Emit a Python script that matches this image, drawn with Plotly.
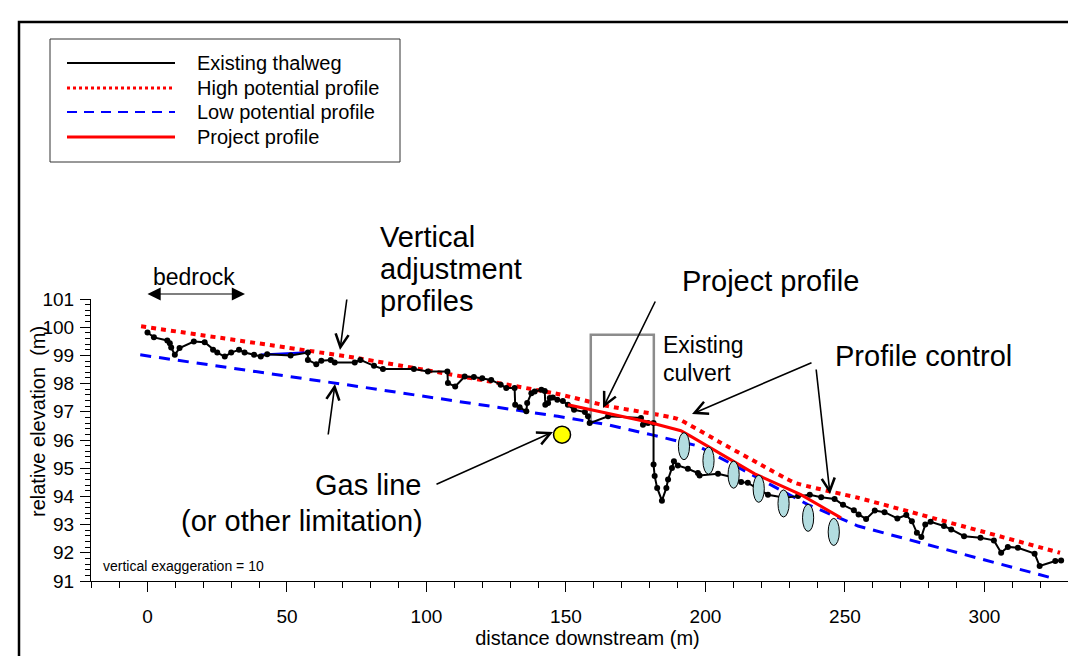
import plotly.graph_objects as go

# ---------------- data ----------------
thalweg_x = [0.0, 2.3, 7.1, 8.0, 8.5, 9.8, 11.5, 16.6, 20.5, 23.5, 25.0, 27.7, 30.0, 32.8, 34.8, 38.2,
             40.6, 42.9, 51.3, 57.5, 57.5, 60.5, 62.3, 65.7, 67.1, 74.3, 76.3, 81.2, 84.4, 95.5, 100.5,
             107.5, 107.7, 110.3, 113.7, 117.0, 120.0, 123.2, 126.6, 128.6, 131.6, 131.8, 133.4, 135.8,
             136.1, 137.6, 138.8, 141.2, 142.4, 142.6, 143.6, 144.2, 145.3, 146.9, 148.9, 150.7, 152.9,
             156.8, 157.9, 158.5, 165.1, 176.9, 177.6, 179.4, 181.4, 181.4, 181.8, 182.7, 184.4, 186.0,
             186.6, 188.0, 188.7, 190.1, 193.7, 197.3, 197.9, 204.5, 210.5, 212.8, 215.2, 222.4, 228.4,
             233.2, 237.4, 241.5, 246.3, 249.3, 253.2, 254.9, 257.6, 260.7, 264.2, 268.8, 272.0, 274.0,
             275.8, 277.4, 278.8, 280.7, 285.5, 288.1, 292.7, 298.6, 303.4, 306.0, 308.4, 312.0, 318.0,
             319.8, 325.4, 327.5]
thalweg_y = [99.81, 99.64, 99.53, 99.43, 99.28, 99.02, 99.26, 99.49, 99.47, 99.20, 99.10, 98.96, 99.10,
             99.20, 99.10, 99.02, 98.96, 99.04, 99.00, 99.10, 98.84, 98.69, 98.81, 98.84, 98.75, 98.75,
             98.84, 98.63, 98.52, 98.52, 98.43, 98.43, 98.02, 97.90, 98.25, 98.23, 98.19, 98.13, 97.96,
             97.84, 97.84, 97.25, 97.16, 97.02, 97.31, 97.66, 97.72, 97.78, 97.74, 97.25, 97.31, 97.49,
             97.51, 97.43, 97.38, 97.25, 97.07, 96.99, 96.84, 96.60, 96.84, 96.78, 96.54, 96.60, 96.60,
             95.13, 94.72, 94.30, 93.85, 94.30, 94.60, 95.01, 95.25, 95.10, 94.98, 94.83, 94.74, 94.80,
             94.66, 94.51, 94.48, 94.06, 93.95, 94.01, 94.06, 93.97, 93.91, 93.70, 93.51, 93.36, 93.20,
             93.50, 93.44, 93.22, 93.34, 93.12, 92.71, 92.56, 93.00, 93.10, 92.95, 92.83, 92.59, 92.53,
             92.44, 92.00, 92.21, 92.18, 91.97, 91.53, 91.71, 91.73]

high_x = [-2.3, 75.4, 147.1, 165.1, 190.0, 204.5, 219.9, 232.1, 254.7, 327.1]
high_y = [100.03, 98.90, 97.63, 97.20, 96.75, 95.96, 95.12, 94.48, 93.95, 92.00]

low_x = [-2.6, 75.4, 147.1, 165.1, 180.5, 197.3, 236.7, 254.7, 323.8]
low_y = [99.02, 97.90, 96.84, 96.54, 96.19, 95.79, 93.71, 92.95, 91.12]

project_x = [150.7, 179.4, 191.2, 194.8, 217.7, 234.2, 248.6]
project_y = [97.25, 96.64, 96.33, 96.13, 94.80, 94.06, 93.24]

bedrock_seg_x = [40.7, 57.5]
bedrock_seg_y = [99.02, 99.10]

culvert_x = [158.9, 158.9, 181.5, 181.5]
culvert_y = [96.60, 99.73, 99.73, 96.70]

control_x = [192.3, 201.1, 210.1, 219.1, 228.0, 236.8, 246.0]
control_y = [95.78, 95.27, 94.77, 94.27, 93.75, 93.24, 92.74]

gas_x = [148.6]
gas_y = [96.19]

x_range = [-20.25, 335.7]
y_range = [91, 101]

legend_labels = ["Existing thalweg", "High potential profile", "Low potential profile", "Project profile"]

# ---------------- layout geometry ----------------
W, H = 1076, 656
ML, MR, MT, MB = 83, 0, 291, 83
PW = W - ML - MR
PH = H - MT - MB
FONT = "Liberation Sans, Arial, sans-serif"


def px(x):
    return (x - ML) / PW


def py(y):
    return (H - MB - y) / PH


fig = go.Figure()

fig.add_trace(go.Scatter(x=low_x, y=low_y, mode="lines", showlegend=False,
                         line=dict(color="#0000ff", width=3, dash="11px,8px")))
fig.add_trace(go.Scatter(x=high_x, y=high_y, mode="lines", showlegend=False,
                         line=dict(color="#ff0000", width=4, dash="5px,5px", shape="spline",
                                   smoothing=0.4)))
fig.add_trace(go.Scatter(x=bedrock_seg_x, y=bedrock_seg_y, mode="lines", showlegend=False,
                         line=dict(color="#0000ff", width=2.5)))
fig.add_trace(go.Scatter(x=culvert_x, y=culvert_y, mode="lines", showlegend=False,
                         line=dict(color="#8c8c8c", width=2.5)))
fig.add_trace(go.Scatter(x=thalweg_x, y=thalweg_y, mode="lines+markers", showlegend=False,
                         line=dict(color="black", width=2),
                         marker=dict(color="black", size=6)))
fig.add_trace(go.Scatter(x=project_x, y=project_y, mode="lines", showlegend=False,
                         line=dict(color="#ff0000", width=3)))
fig.add_trace(go.Scatter(x=gas_x, y=gas_y, mode="markers", showlegend=False,
                         marker=dict(color="#ffff00", size=17, line=dict(color="black", width=1.5))))

shapes = []
EW, EH = 2.0, 0.48
for cx, cy in zip(control_x, control_y):
    shapes.append(dict(type="circle", xref="x", yref="y", x0=cx - EW, x1=cx + EW,
                       y0=cy - EH, y1=cy + EH, fillcolor="#b3dde0",
                       line=dict(color="black", width=1)))

shapes.append(dict(type="rect", xref="paper", yref="paper", x0=px(11), x1=px(1100),
                   y0=py(680), y1=py(14), line=dict(color="black", width=2.5)))
shapes.append(dict(type="rect", xref="paper", yref="paper", x0=px(42), x1=px(392),
                   y0=py(154), y1=py(31), line=dict(color="#333333", width=1),
                   fillcolor="white"))
leg_rows = [55, 80, 104, 129]
leg_styles = [dict(color="black", width=2), dict(color="#ff0000", width=3, dash="3px,3px"),
              dict(color="#0000ff", width=2, dash="10px,7px"), dict(color="#ff0000", width=3)]
for ry, st in zip(leg_rows, leg_styles):
    shapes.append(dict(type="line", xref="paper", yref="paper", x0=px(59), x1=px(167),
                       y0=py(ry), y1=py(ry), line=st))

annotations = []
for ry, lab in zip(leg_rows, legend_labels):
    annotations.append(dict(x=px(187), y=py(ry), xref="paper", yref="paper", text=lab,
                            showarrow=False, xanchor="left", yanchor="middle",
                            font=dict(family=FONT, size=20, color="black")))


def label(x, y, text, size, anchor="left"):
    annotations.append(dict(x=px(x), y=py(y), xref="paper", yref="paper", text=text,
                            showarrow=False, xanchor=anchor, yanchor="middle",
                            font=dict(family=FONT, size=size, color="black")))


def arrow(x0, y0, x1, y1, head=5, size=1.6, width=1.6, side="end"):
    annotations.append(dict(x=px(x1), y=py(y1), xref="paper", yref="paper", text="",
                            showarrow=True, ax=x0 - x1, ay=y0 - y1, arrowhead=head,
                            arrowsize=size, arrowwidth=width, arrowcolor="black",
                            arrowside=side, standoff=0, startstandoff=0))


label(370, 229, "Vertical", 29)
label(370, 261, "adjustment", 29)
label(370, 293, "profiles", 29)
label(143, 269, "bedrock", 23)
label(672, 273, "Project profile", 29)
label(653, 337, "Existing", 23)
label(653, 365, "culvert", 23)
label(825, 348, "Profile control", 29)
label(415, 477, "Gas line", 29, "right")
label(417, 513, "(or other limitation)", 29, "right")
label(93, 558, "vertical exaggeration = 10", 14)
annotations.append(dict(x=px(30), y=py(414), xref="paper", yref="paper",
                        text="relative elevation  (m)", showarrow=False, textangle=-90,
                        xanchor="center", yanchor="middle",
                        font=dict(family=FONT, size=20, color="black")))

annotations.append(dict(x=px(237), y=py(286), xref="paper", yref="paper", text="",
                        showarrow=True, ax=138 - 237, ay=0, arrowhead=2, arrowsize=2.2,
                        arrowwidth=1.2, arrowcolor="black", arrowside="end+start",
                        standoff=0, startstandoff=0))
arrow(339, 290, 332, 342)
arrow(320, 428, 327, 376)
arrow(648, 292, 595, 400)
arrow(805, 354, 684, 406)
arrow(808, 360, 822, 486)
arrow(427, 477, 545, 424)

fig.update_layout(
    width=W, height=H,
    margin=dict(l=ML, r=MR, t=MT, b=MB, pad=0),
    paper_bgcolor="white", plot_bgcolor="white",
    showlegend=False,
    shapes=shapes, annotations=annotations,
    font=dict(family=FONT, size=19, color="black"),
    xaxis=dict(range=x_range, tickmode="linear", tick0=0, dtick=50, ticks="outside",
               ticklen=10, tickcolor="black", showline=True, linecolor="black", linewidth=1,
               showgrid=False, zeroline=False, tickfont=dict(family=FONT, size=19),
               ticklabelstandoff=8,
               minor=dict(dtick=10, tick0=0, ticks="outside", ticklen=6, tickcolor="black"),
               title=dict(text="distance downstream (m)", font=dict(family=FONT, size=20),
                          standoff=3)),
    yaxis=dict(range=y_range, tickmode="linear", tick0=91, dtick=1, ticks="outside",
               ticklen=10, tickcolor="black", showline=True, linecolor="black", linewidth=1,
               showgrid=False, zeroline=False, tickfont=dict(family=FONT, size=19),
               ticklabelstandoff=2,
               minor=dict(dtick=0.2, tick0=91, ticks="outside", ticklen=5, tickcolor="black")),
)

fig.write_html("out.html")
